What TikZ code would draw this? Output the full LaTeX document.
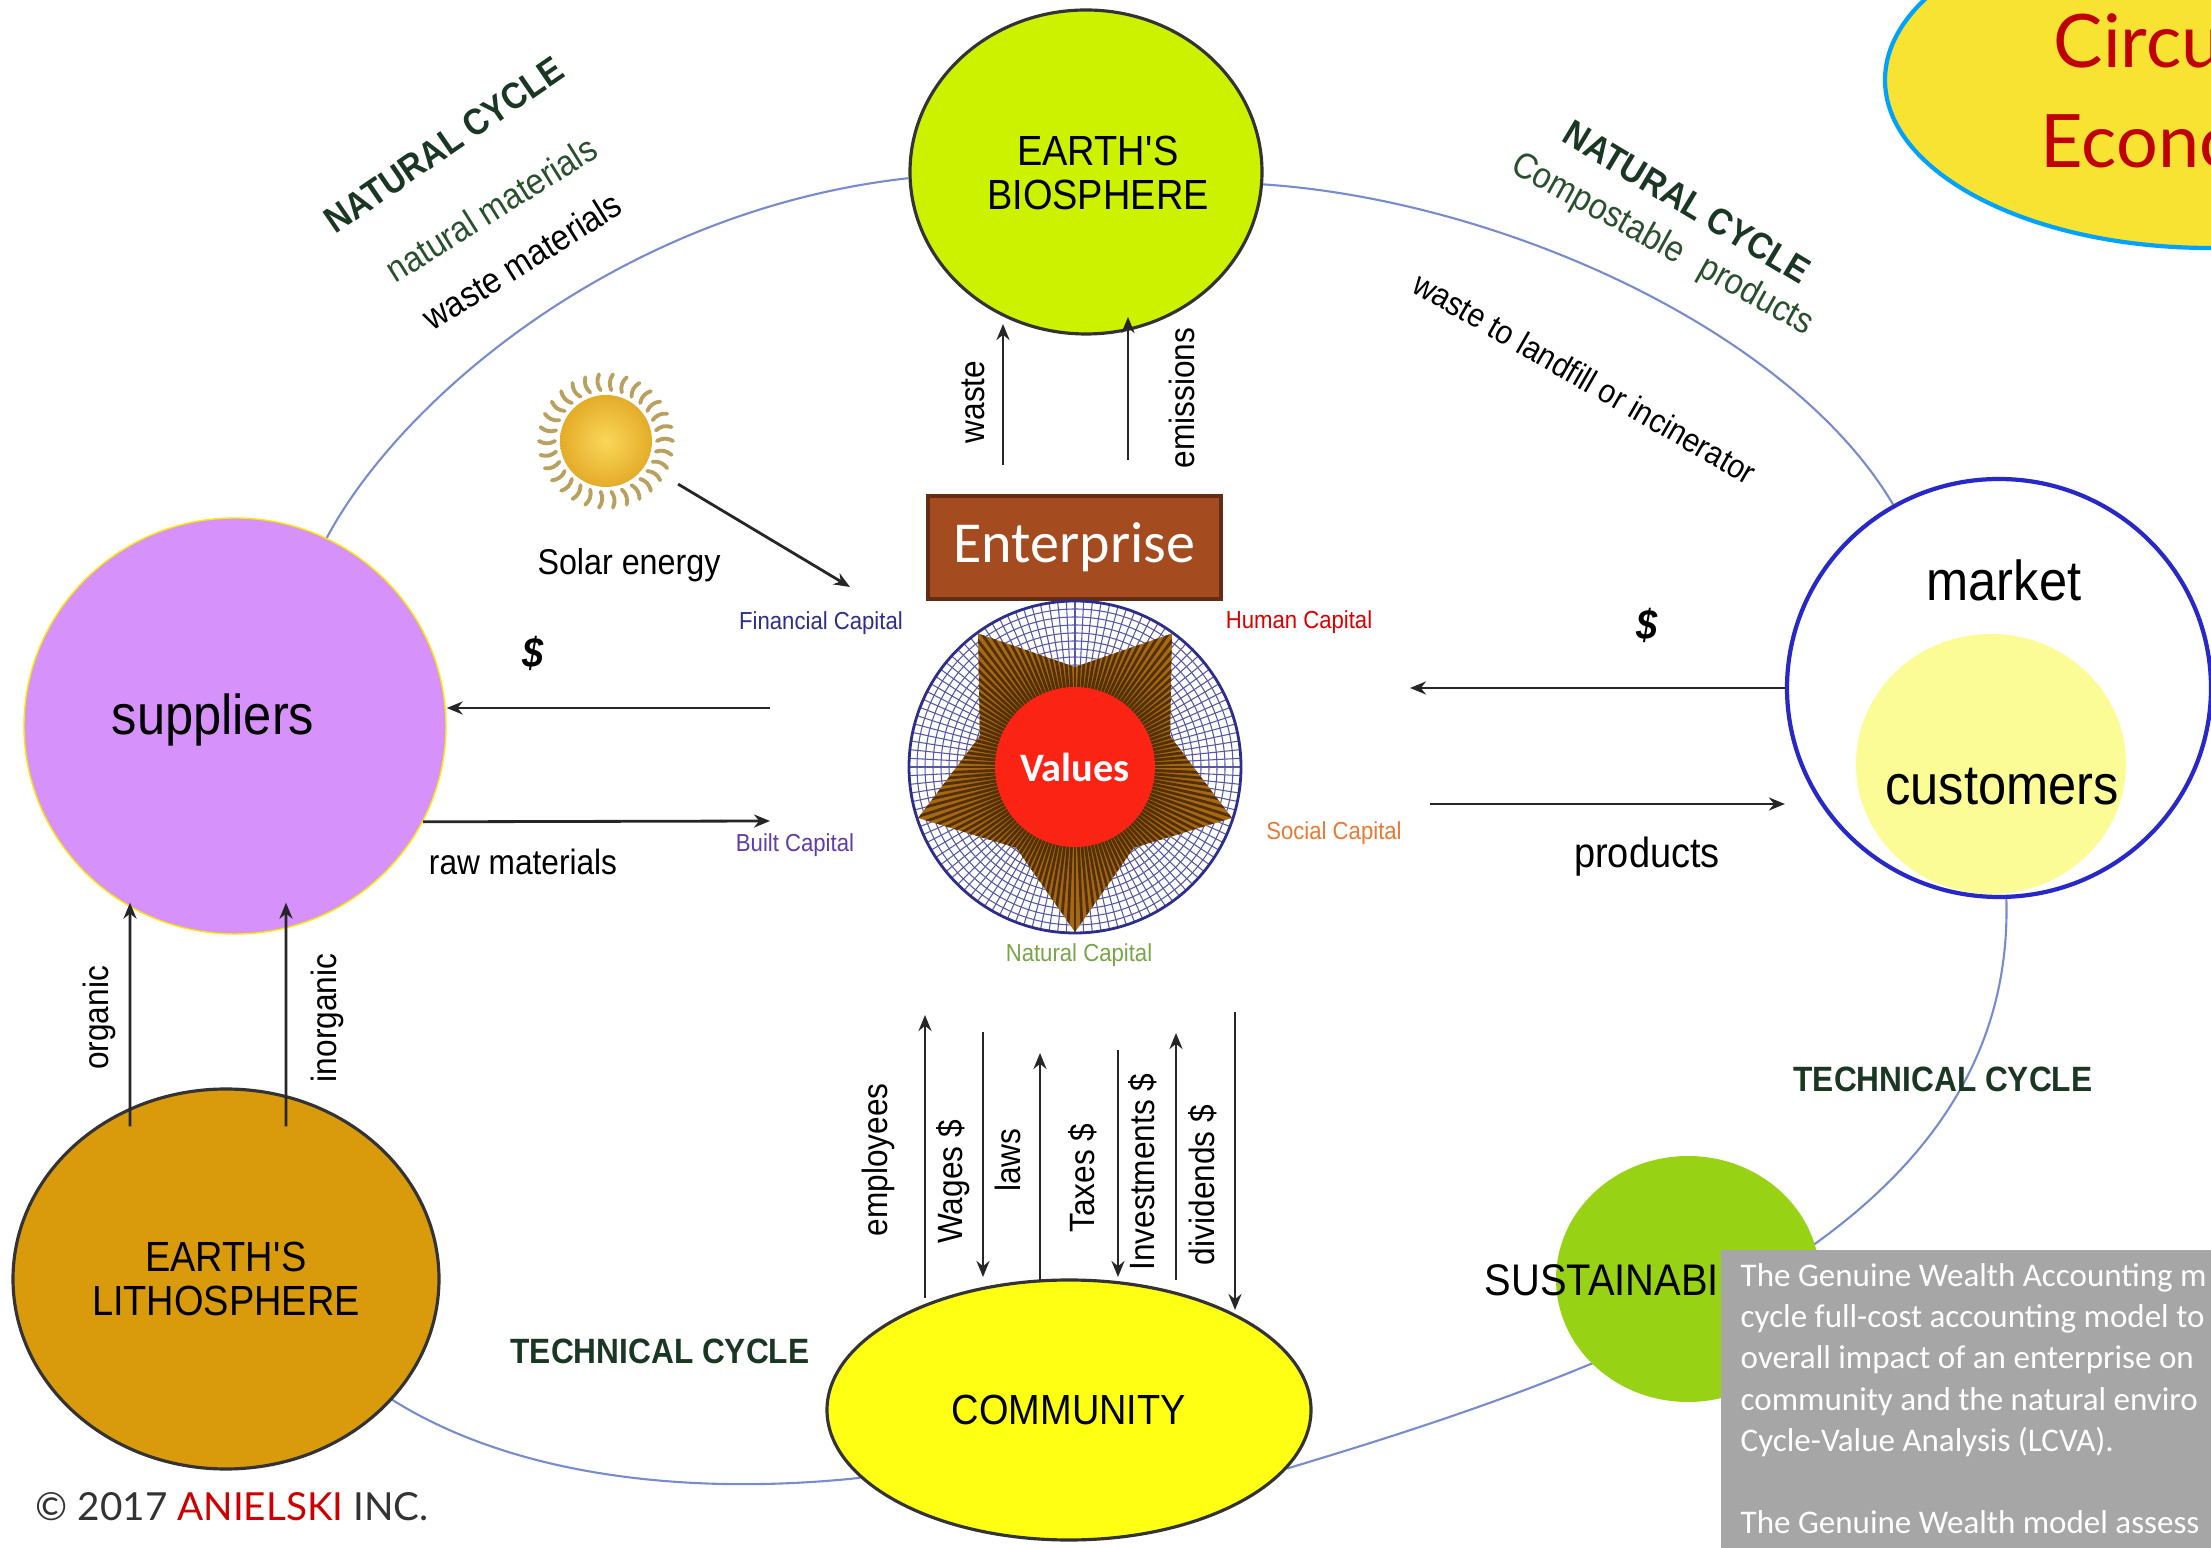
\documentclass[tikz,border=0pt]{standalone}
\usepackage{fontspec}
\setmainfont{Liberation Sans}[FakeStretch=0.9]
\newfontfamily\calfont{Carlito}
\newfontfamily\gillfont{Lato}
\usetikzlibrary{shapes.geometric,arrows.meta,positioning,backgrounds,calc}

\definecolor{bioGreen}{RGB}{204,242,0}
\definecolor{lithoGold}{RGB}{217,155,12}
\definecolor{suppViolet}{RGB}{214,146,250}
\definecolor{commYellow}{RGB}{255,255,20}
\definecolor{custYellow}{RGB}{252,252,150}
\definecolor{mktBlue}{RGB}{40,40,200}
\definecolor{sustGreen}{RGB}{152,210,20}
\definecolor{cycleBlue}{RGB}{120,140,205}
\definecolor{entBrown}{RGB}{165,75,32}
\definecolor{starBrown}{RGB}{165,105,20}
\definecolor{rayBrown}{RGB}{85,48,5}
\definecolor{gridNavy}{RGB}{45,45,140}
\definecolor{valRed}{RGB}{250,35,20}
\definecolor{cycleText}{RGB}{25,55,35}
\definecolor{matText}{RGB}{40,80,45}
\definecolor{noteGray}{RGB}{166,166,166}
\definecolor{bubbleYellow}{RGB}{248,226,50}
\definecolor{bubbleBlue}{RGB}{0,162,255}
\definecolor{bubbleRed}{RGB}{192,0,0}
\definecolor{sunGold}{RGB}{228,172,40}
\definecolor{sunCore}{RGB}{250,215,90}
\definecolor{sunRay}{RGB}{185,160,95}
\definecolor{builtPurple}{RGB}{95,60,170}
\definecolor{socOrange}{RGB}{235,120,50}
\definecolor{natOlive}{RGB}{120,165,70}

\tikzset{
    sphere/.style={ellipse, draw=black!80, line width=0.9pt, inner sep=0, align=center, font=\fontsize{12}{12.6}\selectfont},
    bigtext/.style={font=\fontsize{16}{16}\selectfont, inner sep=0},
    lbl/.style={font=\fontsize{10}{10}\selectfont, inner sep=0},
    vlbl/.style={lbl, rotate=90},
    captext/.style={font=\fontsize{7}{7}\selectfont, inner sep=0},
    cyclelbl/.style={font=\bfseries\fontsize{10.5}{10.5}\selectfont, text=cycleText, inner sep=0},
    matlbl/.style={font=\fontsize{10.3}{10.3}\selectfont, text=matText, inner sep=0},
    dollar/.style={font=\bfseries\itshape\fontsize{12}{12}\selectfont, inner sep=0},
    flow/.style={-{Stealth[length=1.6mm,width=1.3mm]}, line width=0.8pt, black!85},
    cycleline/.style={draw=cycleBlue, line width=0.6pt},
    entbox/.style={rectangle, draw=entBrown!60!black, line width=1pt, fill=entBrown, minimum width=2.93cm, minimum height=1.03cm, text=white, font=\calfont\fontsize{16.5}{16.5}\selectfont},
    emblem/.style={circle, inner sep=0, minimum size=3.32cm, fill=white, draw=gridNavy, line width=0.8pt,
        path picture={
            \foreach \a in {0,3,...,357}
                \draw[gridNavy!80, line width=0.3pt] (val) -- ++(\a:1.7);
            \foreach \r in {0.30,0.38,...,1.66}
                \draw[gridNavy!80, line width=0.3pt] (val) circle (\r);
        }},
    valstar/.style={star, star points=5, star point ratio=1.65, shape border rotate=180, minimum size=3.30cm, inner sep=0, fill=starBrown,
        path picture={
            \foreach \a in {0,2.5,...,357.5}
                \draw[rayBrown, line width=0.8pt] (val) -- ++(\a:1.8);
        }},
    sunbody/.style={circle, inner sep=0, minimum size=0.92cm, inner color=sunCore, outer color=sunGold},
    sunray/.style={draw=sunRay, line width=1.1pt, line cap=round},
    notetext/.style={align=left, text=white, inner sep=0, font=\calfont\fontsize{9.4}{11.7}\selectfont},
    bubbletext/.style={text=bubbleRed, inner sep=0, font=\gillfont\fontsize{21}{21}\selectfont},
}

\begin{document}
\begin{tikzpicture}
    \useasboundingbox (0,0) rectangle (22.11,15.47);
    \clip (0,0) rectangle (22.11,15.47);

    % spheres and partners
    \node[sphere, fill=bioGreen, minimum width=3.52cm, minimum height=3.24cm] (bio) at (10.86,13.75) {};
    \node[sphere, draw=none] (biolbl) at (10.98,13.74) {EARTH\textquotesingle S\\BIOSPHERE};
    \node[sphere, fill=lithoGold, minimum width=4.26cm, minimum height=3.80cm] (litho) at (2.26,2.68) {EARTH\textquotesingle S\\LITHOSPHERE};
    \node[sphere, fill=commYellow, minimum width=4.84cm, minimum height=2.60cm] (comm) at (10.69,1.37) {COMMUNITY};
    \node[ellipse, draw=yellow!90!orange, fill=suppViolet, minimum width=4.22cm, minimum height=4.16cm, inner sep=0] (supp) at (2.35,8.21) {};
    \node[bigtext] (supplbl) at (2.13,8.27) {suppliers};
    \node[ellipse, draw=mktBlue, line width=1.2pt, fill=white, minimum width=4.24cm, minimum height=4.18cm] (mkt) at (19.99,8.59) {};
    \node[ellipse, fill=custYellow, minimum width=2.70cm, minimum height=2.60cm] (cust) at (19.91,7.83) {};
    \node[bigtext] (mktlbl) at (20.04,9.67) {market};
    \node[bigtext] (custlbl) at (20.02,7.60) {customers};

    % cycles behind everything
    \begin{scope}[on background layer]
        \draw[cycleline] (supp.64) .. controls (4.00,11.47) and (6.20,13.37) .. (bio.182);
        \draw[cycleline] (bio.356) .. controls (15.00,13.47) and (17.90,12.17) .. (mkt.120);
        \draw[cycleline] (mkt.272) .. controls (20.15,3.30) and (16.60,1.90) .. (comm.345);
        \draw[cycleline] (litho.324) .. controls (5.20,0.67) and (7.00,0.52) .. (comm.198);
    \end{scope}
    \node[ellipse, fill=sustGreen, minimum width=2.64cm, minimum height=2.46cm] (sust) at (16.88,2.68) {};

    \node[cyclelbl, rotate=34.5] (natL) at (4.44,14.02) {NATURAL CYCLE};
    \node[matlbl, rotate=32] (natmat) at (4.91,13.38) {natural materials};
    \node[matlbl, text=black, rotate=32] (wastemat) at (5.22,12.86) {waste materials};
    \node[cyclelbl, rotate=-31] (natR) at (16.87,13.45) {NATURAL CYCLE};
    \node[matlbl, rotate=-29] (compost) at (16.62,13.02) {Compostable\hspace{0.6em}products};
    \node[lbl, font=\fontsize{9.5}{9.5}\selectfont, rotate=-30] (landfill) at (15.85,11.69) {waste to landfill or incinerator};
    \node[cyclelbl, font=\bfseries\fontsize{10}{10}\selectfont] (techL) at (6.60,1.96) {TECHNICAL CYCLE};
    \node[cyclelbl, font=\bfseries\fontsize{10}{10}\selectfont] (techR) at (19.43,4.68) {TECHNICAL CYCLE};

    % enterprise and its capitals
    \node[entbox] (ent) at (10.745,9.995) {Enterprise};
    \coordinate (val) at (10.75,7.80);
    \node[emblem] (grid) at (val) {};
    \node[valstar] (star) at (val) {};
    \node[circle, fill=valRed, minimum size=1.60cm, inner sep=0, text=white, font=\calfont\bfseries\fontsize{11.5}{11.5}\selectfont] (values) at (val) {Values};

    \node[captext, text=gridNavy] (fincap) at (8.21,9.24) {Financial Capital};
    \node[captext, text=red!85!black] (humcap) at (12.99,9.25) {Human Capital};
    \node[captext, text=builtPurple] (builtcap) at (7.95,7.02) {Built Capital};
    \node[captext, text=socOrange] (soccap) at (13.34,7.14) {Social Capital};
    \node[captext, text=natOlive] (natcap) at (10.79,5.92) {Natural Capital};

    % sun
    \node[sunbody] (sun) at (6.06,11.06) {};
    \foreach \a in {0,12,...,348}
        \draw[sunray] (sun.center) ++(\a:0.51) to[bend left=30] ++(\a:0.16);
    \coordinate (solarend) at (8.50,9.60);
    \draw[flow] ($(sun.center)!0.84cm!(solarend)$) -- (solarend);
    \node[lbl, font=\fontsize{10.2}{10.2}\selectfont] (solar) at (6.29,9.82) {Solar energy};

    % to the biosphere
    \coordinate (wasteA) at (10.03,10.82);
    \coordinate (wasteB) at (10.03,12.23);
    \coordinate (emisA) at (11.28,10.87);
    \coordinate (emisB) at (11.28,12.30);
    \draw[flow] (wasteA) -- (wasteB);
    \draw[flow] (emisA) -- (emisB);
    \node[vlbl] (wastelbl) at (9.73,11.45) {waste};
    \node[vlbl] (emislbl) at (11.82,11.49) {emissions};

    % suppliers side
    \coordinate (payL) at (7.70,8.39);
    \coordinate (rawR) at (7.70,7.26);
    \draw[flow] (payL) -- (payL -| supp.east);
    \draw[flow] (supp.-27) -- (rawR);
    \node[dollar] (payLlbl) at (5.33,8.94) {\$};
    \node[lbl] (rawlbl) at (5.23,6.85) {raw materials};

    \draw[flow] ([shift={(-0.96,-0.39)}]litho.north) -- ([shift={(-1.05,0.32)}]supp.south);
    \draw[flow] ([shift={(0.60,-0.39)}]litho.north) -- ([shift={(0.51,0.32)}]supp.south);
    \node[vlbl] (orglbl) at (0.99,5.29) {organic};
    \node[vlbl] (inorglbl) at (3.27,5.29) {inorganic};

    % market side
    \coordinate (payR) at (14.10,8.59);
    \coordinate (prodL) at (14.30,7.43);
    \draw[flow] (mkt.west) -- (payR);
    \draw[flow] (prodL) -- (prodL -| mkt.west);
    \node[dollar] (payRlbl) at (16.47,9.22) {\$};
    \node[lbl, font=\fontsize{12}{12}\selectfont] (prodlbl) at (16.47,6.90) {products};

    % exchanges with the community
    \foreach \x/\a/\b/\lx/\ly/\t [count=\i] in {
        9.25/2.49/5.32/8.78/3.87/employees,
        9.83/5.15/2.70/9.53/3.65/Wages \$,
        10.40/2.67/4.94/10.08/3.87/laws,
        11.18/4.97/2.70/10.83/3.69/Taxes \$,
        11.76/2.67/5.14/11.43/3.75/Investments \$,
        12.35/5.35/2.37/12.03/3.62/dividends \$} {
        \coordinate (ca\i) at (\x,\a);
        \coordinate (cb\i) at (\x,\b);
        \draw[flow] (ca\i) -- (cb\i);
        \node[vlbl] (cl\i) at (\lx,\ly) {\t};
    }

    \node[anchor=west, inner sep=0, font=\fontsize{12.6}{12.6}\selectfont] (sustlbl) at (14.84,2.67) {SUSTAINABI};

    % note panel
    \node[rectangle, fill=noteGray, minimum width=5.2cm, minimum height=3.1cm, anchor=north west, inner sep=0] (note) at (17.20,2.98) {};
    \node[notetext, anchor=north west] (notetxt) at (17.40,2.84) {The Genuine Wealth Accounting m\\cycle full-cost accounting model to\\overall impact of an enterprise on\\community and the natural enviro\\Cycle-Value Analysis (LCVA).\\[11.7pt]The Genuine Wealth model assess};

    % title bubble
    \node[ellipse, draw=bubbleBlue, line width=1.2pt, fill=bubbleYellow, minimum width=6.5cm, minimum height=3.36cm] (bubble) at (22.10,14.67) {};
    \node[bubbletext, anchor=base west] (circ) at (20.53,14.79) {Circu};
    \node[bubbletext, anchor=base west] (econ) at (20.40,13.79) {Econo};

    \node[anchor=west, inner sep=0, text=black!80, font=\gillfont\fontsize{11}{11}\selectfont] (copy) at (0.35,0.40) {© 2017 \textcolor{red!80!black}{ANIELSKI} INC.};
\end{tikzpicture}
\end{document}
